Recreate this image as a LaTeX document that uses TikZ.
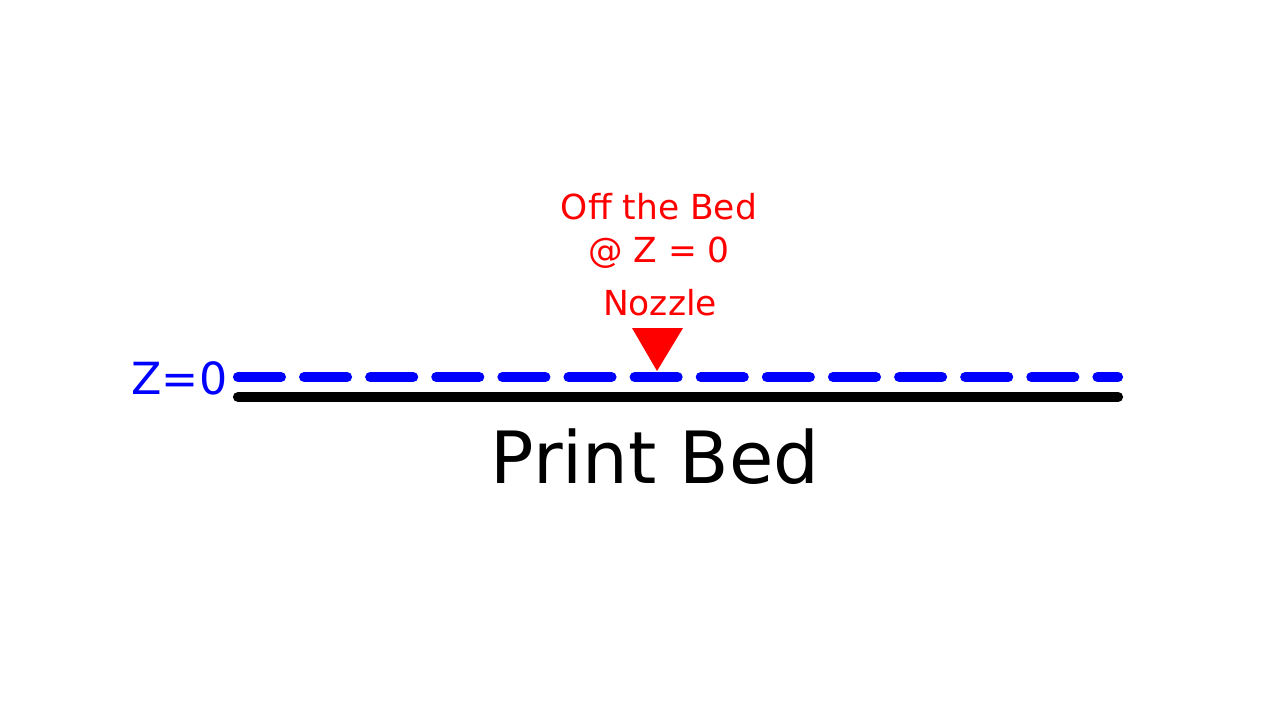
\documentclass[tikz,border=0pt]{standalone}
\usepackage{fontspec}
\setmainfont{DejaVu Sans}
\tikzset{>=latex}
\usetikzlibrary{positioning}
\begin{document}
\begin{tikzpicture}[x=0.01cm,y=-0.01cm,
    bedline/.style={line width=2.9pt, line cap=round},
    zline/.style={blue, line width=2.9pt, line cap=round, dash pattern=on 12.2pt off 6.6pt},
    redtext/.style={red, font=\fontsize{9.8}{12.2}\selectfont, align=center}]
   \useasboundingbox (0,0) rectangle (1280,720);
   \coordinate (bedL) at (238,397);
   \coordinate (bedR) at (1118,397);
   \coordinate (zL) at (238,377);
   \coordinate (zR) at (1118,377);
   \draw[bedline] (bedL) -- (bedR);
   \draw[zline] (zL) -- (zR);
   \node[font=\fontsize{20.5}{24}\selectfont] (bed) at (655,457) {Print Bed};
   \node[blue, font=\fontsize{12.6}{15}\selectfont, anchor=east, inner sep=0pt] (zlabel) at (228,378) {Z=0};
   % nozzle
   \fill[red] (632,328) -- (683,328) -- (657,371) -- cycle;
   \node[redtext] (nozzle) at (660,303) {Nozzle};
   \node[redtext] (off) at (659,231) {Off the Bed\\@ Z = 0};
\end{tikzpicture}
\end{document}
